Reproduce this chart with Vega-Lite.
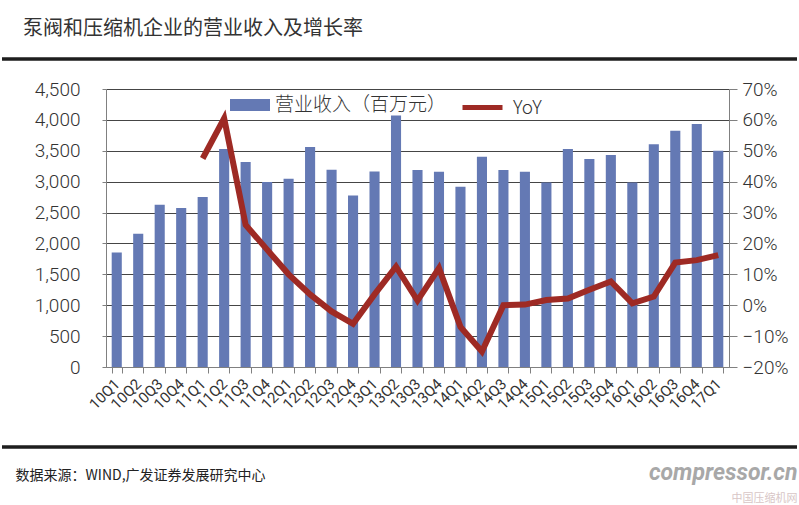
{
  "$schema": "https://vega.github.io/schema/vega-lite/v6.json",
  "width": 795,
  "height": 388,
  "autosize": {"type": "none"},
  "padding": {"left": 2, "top": 59, "right": 2, "bottom": 58},
  "background": "white",
  "title": {
    "text": "泵阀和压缩机企业的营业收入及增长率",
    "anchor": "start",
    "frame": "group",
    "offset": 20,
    "dx": 21,
    "font": "Noto Sans CJK SC",
    "fontSize": 20,
    "fontWeight": "normal",
    "color": "#333333"
  },
  "config": {
    "view": {"stroke": "#1e1e1e", "strokeWidth": 3.5, "strokeDash": [795, 388, 795, 388]},
    "axis": {"labelFont": "Roboto", "labelFontWeight": 300, "labelColor": "#333333", "domainColor": "#808080", "tickColor": "#808080"}
  },
  "data": {
    "values": [
      {"q": "10Q1", "rev": 1855},
      {"q": "10Q2", "rev": 2157},
      {"q": "10Q3", "rev": 2626},
      {"q": "10Q4", "rev": 2573},
      {"q": "11Q1", "rev": 2751, "yoy": 0.475},
      {"q": "11Q2", "rev": 3528, "yoy": 0.605},
      {"q": "11Q3", "rev": 3317, "yoy": 0.26},
      {"q": "11Q4", "rev": 2994, "yoy": 0.18},
      {"q": "12Q1", "rev": 3047, "yoy": 0.10},
      {"q": "12Q2", "rev": 3560, "yoy": 0.035},
      {"q": "12Q3", "rev": 3192, "yoy": -0.02},
      {"q": "12Q4", "rev": 2777, "yoy": -0.06},
      {"q": "13Q1", "rev": 3165, "yoy": 0.035},
      {"q": "13Q2", "rev": 4071, "yoy": 0.125},
      {"q": "13Q3", "rev": 3190, "yoy": 0.015},
      {"q": "13Q4", "rev": 3160, "yoy": 0.12},
      {"q": "14Q1", "rev": 2918, "yoy": -0.07},
      {"q": "14Q2", "rev": 3403, "yoy": -0.15},
      {"q": "14Q3", "rev": 3190, "yoy": 0.0},
      {"q": "14Q4", "rev": 3160, "yoy": 0.002},
      {"q": "15Q1", "rev": 2988, "yoy": 0.017},
      {"q": "15Q2", "rev": 3528, "yoy": 0.022},
      {"q": "15Q3", "rev": 3366, "yoy": 0.05},
      {"q": "15Q4", "rev": 3430, "yoy": 0.077},
      {"q": "16Q1", "rev": 2988, "yoy": 0.006},
      {"q": "16Q2", "rev": 3604, "yoy": 0.028},
      {"q": "16Q3", "rev": 3824, "yoy": 0.138},
      {"q": "16Q4", "rev": 3932, "yoy": 0.146},
      {"q": "17Q1", "rev": 3500, "yoy": 0.162}
    ]
  },
  "layer": [
    {
      "mark": {"type": "bar"},
      "encoding": {
        "x": {
          "field": "q",
          "type": "nominal",
          "sort": null,
          "scale": {"range": [104, 727], "paddingInner": 0.53, "paddingOuter": 0.265},
          "axis": {
            "title": "数据来源：WIND,广发证券发展研究中心",
            "titleX": 13,
            "titleY": 108,
            "titleAlign": "left",
            "titleBaseline": "middle",
            "titleAngle": 0,
            "titleFont": "Noto Sans CJK SC",
            "titleFontSize": 14,
            "titleFontWeight": "normal",
            "titleColor": "#222222",
            "offset": -80,
            "labelAngle": -45,
            "labelAlign": "right",
            "labelBaseline": "middle",
            "labelPadding": 8,
            "labelFontSize": 15,
            "labelFontWeight": "normal",
            "labelOverlap": false,
            "tickBand": "extent",
            "tickSize": 6,
            "grid": false,
            "zindex": 1
          }
        },
        "y": {
          "field": "rev",
          "type": "quantitative",
          "scale": {"domain": [0, 4500], "range": [308, 30], "nice": false},
          "axis": {
            "title": "中国压缩机网",
            "titleX": 691,
            "titleY": 439,
            "titleAngle": 0,
            "titleAlign": "right",
            "titleBaseline": "middle",
            "titleFont": "Noto Sans CJK SC",
            "titleFontSize": 11,
            "titleFontWeight": "normal",
            "titleColor": "#d8c6c6",
            "offset": -104,
            "values": [0, 500, 1000, 1500, 2000, 2500, 3000, 3500, 4000, 4500],
            "format": ",.0f",
            "labelFontSize": 19,
            "labelPadding": 22,
            "tickSize": 4,
            "grid": true,
            "gridColor": "#454545",
            "gridWidth": 1
          }
        },
        "color": {
          "datum": "营业收入（百万元）",
          "scale": {"range": ["#6479b4"]},
          "legend": {
            "orient": "none",
            "legendX": 228,
            "legendY": 26,
            "title": null,
            "padding": 0,
            "symbolType": "M-1,-0.3H1V0.3H-1Z",
            "symbolSize": 1600,
            "symbolStrokeWidth": 0,
            "labelFont": "Noto Sans CJK SC",
            "labelFontWeight": 300,
            "labelFontSize": 19,
            "labelLimit": 400,
            "labelColor": "#333333",
            "labelOffset": 5
          }
        }
      }
    },
    {
      "mark": {"type": "line", "strokeWidth": 6, "strokeJoin": "miter", "strokeCap": "butt"},
      "encoding": {
        "x": {"field": "q", "type": "nominal", "sort": null},
        "y": {
          "field": "yoy",
          "type": "quantitative",
          "scale": {"domain": [-0.2, 0.7], "range": [308, 30], "nice": false, "zero": false},
          "axis": {
            "orient": "right",
            "title": "compressor.cn",
            "titleX": 68,
            "titleY": 413,
            "titleAngle": 0,
            "titleAlign": "right",
            "titleBaseline": "middle",
            "titleFont": "Roboto",
            "titleFontSize": 23,
            "titleFontStyle": "italic",
            "titleFontWeight": "bold",
            "titleColor": "#a8a8a8",
            "offset": -68,
            "values": [-0.2, -0.1, 0, 0.1, 0.2, 0.3, 0.4, 0.5, 0.6, 0.7],
            "format": ".0%",
            "labelFontSize": 19,
            "labelPadding": 5,
            "tickSize": 8,
            "grid": false
          }
        },
        "stroke": {
          "datum": "YoY",
          "scale": {"range": ["#9e2a24"]},
          "legend": {
            "orient": "none",
            "legendX": 458,
            "legendY": 26,
            "title": null,
            "padding": 0,
            "symbolType": "stroke",
            "symbolSize": 1600,
            "symbolStrokeWidth": 5,
            "labelFont": "Noto Sans CJK SC",
            "labelFontWeight": 300,
            "labelFontSize": 19,
            "labelColor": "#333333",
            "labelOffset": 8
          }
        }
      }
    }
  ],
  "resolve": {"scale": {"y": "independent"}}
}
